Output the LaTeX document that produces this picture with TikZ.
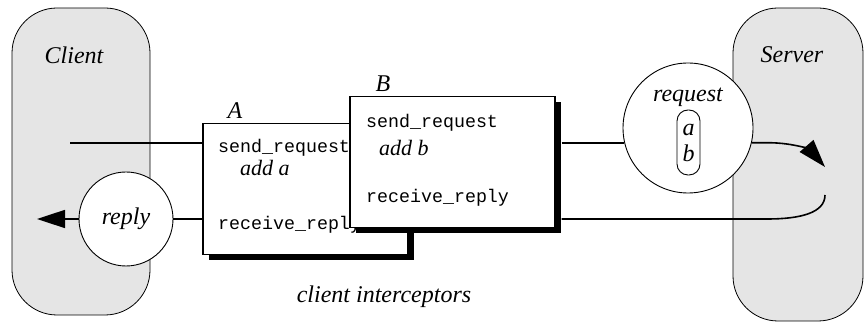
\documentclass[tikz,border=0pt]{standalone}
\usepackage{fontspec}
\setmainfont{Liberation Serif}
\setmonofont{Liberation Mono}
\usetikzlibrary{arrows.meta,positioning,shadows}
\definecolor{sidefill}{RGB}{229,229,229}
\tikzset{
sidebox/.style={
  draw,
  fill=sidefill,
  rounded corners=45pt,
  line width=0.8pt
},
sidelabel/.style={
  font=\fontsize{24}{28}\selectfont\itshape
},
interbox/.style={
  draw,
  fill=white,
  line width=1.4pt,
  minimum width=205pt,
  minimum height=131pt,
  drop shadow={shadow xshift=6pt, shadow yshift=-6pt, fill=black, opacity=1}
},
codetext/.style={
  font=\fontsize{18.3}{22}\selectfont\ttfamily,
  inner sep=0pt,
  anchor=west
},
addtext/.style={
  font=\fontsize{22}{26}\selectfont\itshape,
  inner sep=0pt,
  anchor=west
},
msgcircle/.style={
  draw,
  fill=white,
  circle,
  inner sep=0pt,
  line width=0.9pt
},
link/.style={
  line width=1.6pt
},
arrow/.style={
  -{Triangle[length=28pt,width=18pt]},
  line width=1.6pt
}
}

\begin{document}
\begin{tikzpicture}[x=1pt, y=1pt]
      \useasboundingbox (0,0) rectangle (864,323);

      % Client and server
      \node[sidebox, minimum width=138pt, minimum height=307pt] (client) at (81,161.5) {};
      \node[sidebox, minimum width=130pt, minimum height=313pt] (server) at (798,158.5) {};
      \node[sidelabel] (clientlbl) at (74,268) {Client};
      \node[sidelabel] (serverlbl) at (792,268) {Server};

      % Reply message
      \node[msgcircle, minimum size=94pt] (reply) at (126,104) {};
      \node[sidelabel] (replylbl) at (reply.center) {reply};
      \coordinate (clout) at (70,180);
      \coordinate (clin) at (37,104);

      % Interceptor A
      \node[interbox] (boxA) at (305.5,134) {};
      \node[sidelabel, above right=4pt and 25pt of boxA.north west, inner sep=0pt] (lblA) {A};
      \node[codetext] (sendA) at (218,175) {send\_request};
      \node[addtext] (addA) at (240,155) {add a};
      \node[codetext] (recvA) at (218,98) {receive\_reply};

      % Interceptor B
      \node[interbox] (boxB) at (452.5,161) {};
      \node[sidelabel, above right=4pt and 26pt of boxB.north west, inner sep=0pt] (lblB) {B};
      \node[codetext] (sendB) at (366,200) {send\_request};
      \node[addtext] (addB) at (379,175) {add b};
      \node[codetext] (recvB) at (366,125) {receive\_reply};

      % Request message
      \node[msgcircle, minimum size=130pt] (request) at (688,195) {};
      \node[sidelabel] (requestlbl) at (688,226) {request};
      \node[draw, rounded corners=11pt, line width=0.9pt, minimum width=23pt, minimum height=65pt,
        inner sep=0pt, align=center, font=\fontsize{24}{26}\selectfont\itshape] (items) at (688.5,180.5) {a\\b};
      \coordinate (srvin) at (825,156);
      \coordinate (srvout) at (825,128);

      % Connectors
      \draw[link] (clout) -- (clout -| boxA.west);
      \draw[link] (reply.east) -- (reply.east -| boxA.west);
      \draw[arrow] (reply.west) -- (clin);
      \draw[link] ([xshift=6pt]boxB.east |- request.193) -- (request.193);
      \draw[arrow] (request.-13) -- ++(16,0) .. controls +(28,0) and +(-14,16) .. (srvin);
      \draw[link] (srvout) .. controls +(0,-18) and +(33,0) .. (767,104) -- ([xshift=6pt]boxB.east |- reply.east);

      \node[sidelabel] (caption) at (384,26) {client interceptors};
    \end{tikzpicture}
\end{document}
